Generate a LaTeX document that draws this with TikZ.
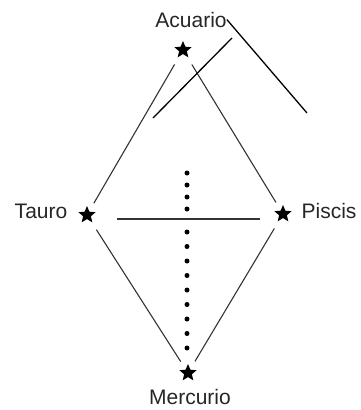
\documentclass[tikz,border=0pt]{standalone}
\usepackage{fontspec}
\setmainfont{Liberation Sans}
\usetikzlibrary{shapes.geometric}

\begin{document}
\begin{tikzpicture}[
  x=1pt,y=-1pt,
  planet/.style={star,star points=5,star point ratio=2.2,fill=black,draw=none,minimum size=18pt,inner sep=0pt},
  signname/.style={anchor=base,inner sep=0pt,text=black!85,font=\fontsize{21}{24}\selectfont},
  edge/.style={black!80,line width=1.1pt,shorten <=9pt,shorten >=9pt},
  stroke/.style={black,line width=1.3pt}
]
\useasboundingbox (0,0) rectangle (360,410);
% stars
\node[planet] (acuario) at (183,50) {};
\node[planet] (tauro) at (87,215) {};
\node[planet] (piscis) at (283,214) {};
\node[planet] (mercurio) at (188,373) {};
% names
\node[signname] (lacuario) at (191,27) {Acuario};
\node[signname] (ltauro) at (41,218) {Tauro};
\node[signname] (lpiscis) at (329,218) {Piscis};
\node[signname] (lmercurio) at (190,404) {Mercurio};
% diamond
\draw[edge] (tauro) -- (acuario);
\draw[edge] (acuario) -- (piscis);
\draw[edge] (tauro) -- (mercurio);
\draw[edge] (piscis) -- (mercurio);
% loose strokes
\coordinate (h1) at (117,219);
\coordinate (h2) at (260,219);
\coordinate (r1) at (307,113);
\coordinate (d1) at (232,38);
\coordinate (d2) at (153,118);
\draw[black!80,line width=1.1pt] (h1) -- (h2);
\draw[stroke] (lacuario.east) -- (r1);
\draw[stroke] (d1) -- (d2);
% dots
\foreach \y in {173,185,197,209,232,246.5,261,275.5,290,304.5,319,333.5,348}
  \fill (187,\y) circle (2.5);
\end{tikzpicture}
\end{document}
